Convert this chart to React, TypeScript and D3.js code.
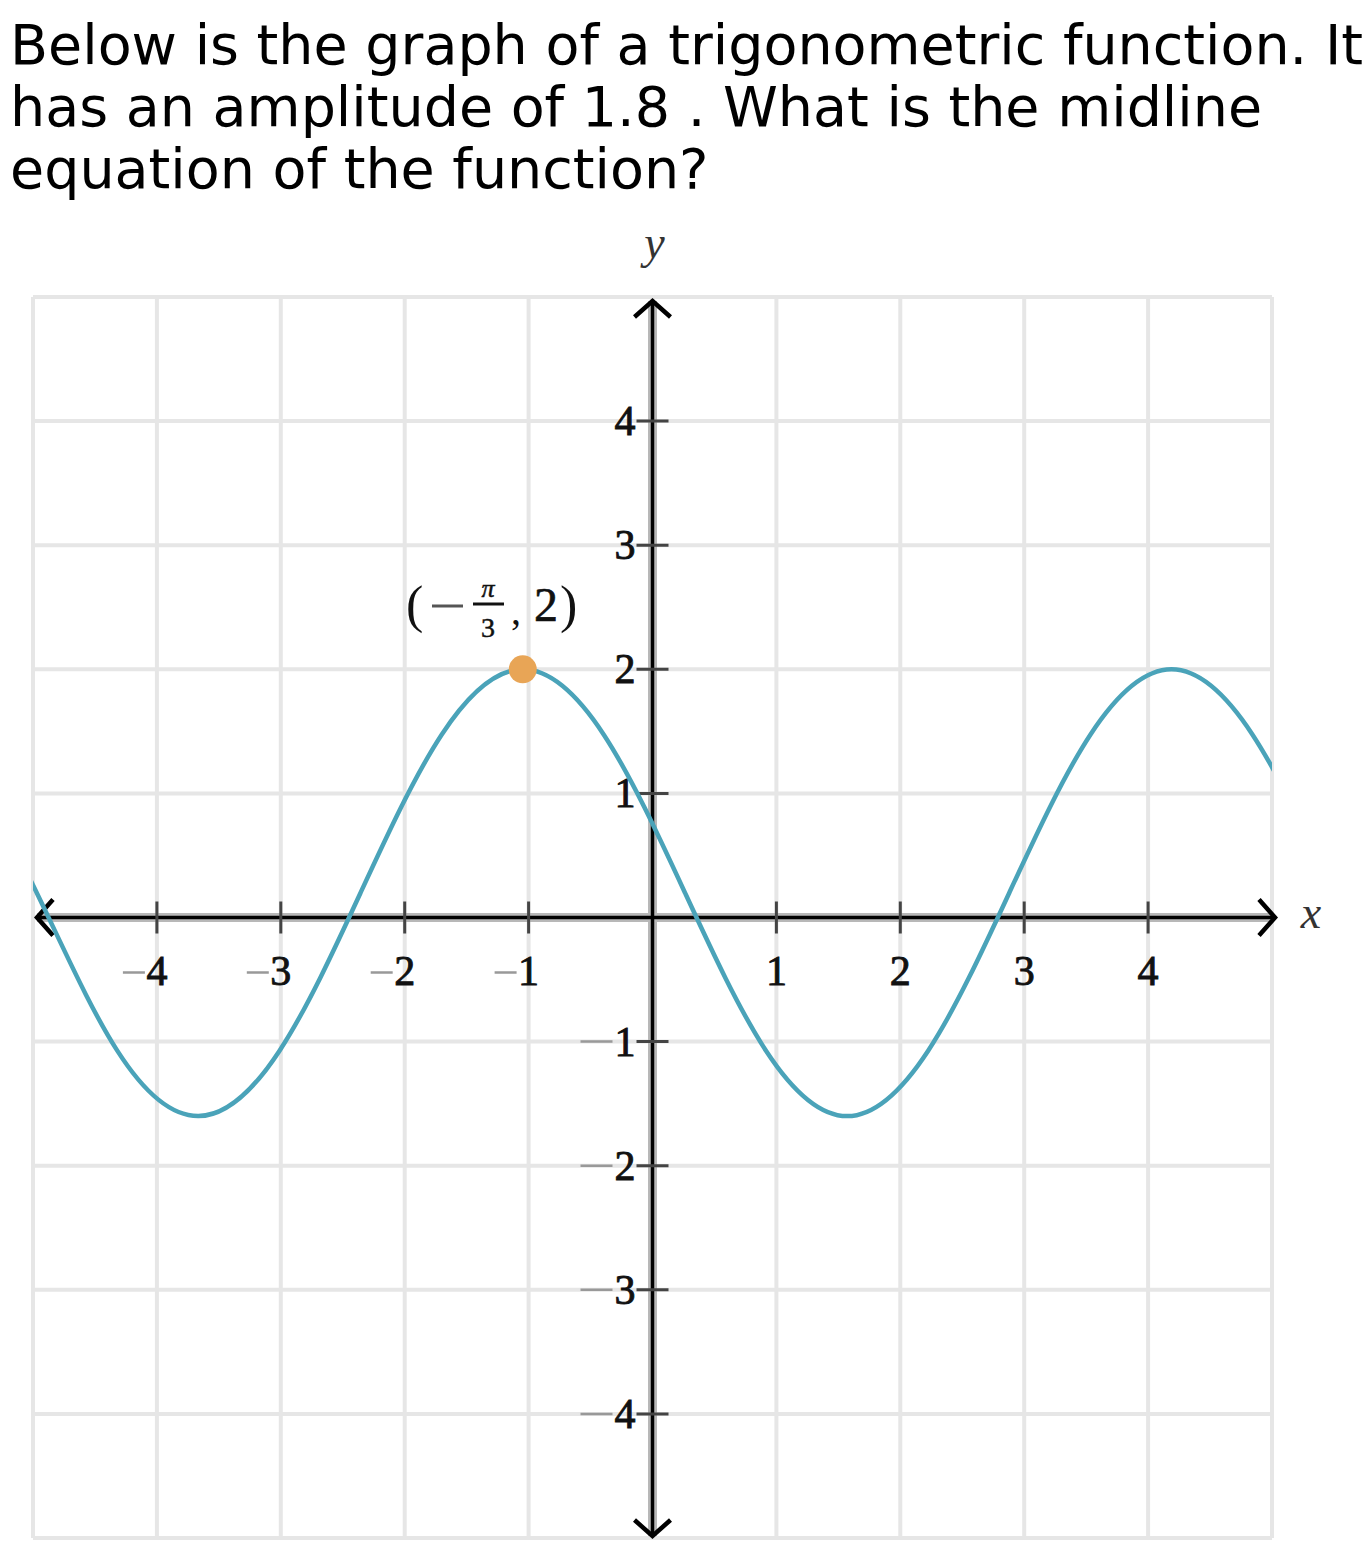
import React, { useEffect, useRef } from 'react';
import * as d3 from 'd3';

// question text, one entry per line
const questionLines = [
  'Below is the graph of a trigonometric function. It',
  'has an amplitude of 1.8 . What is the midline',
  'equation of the function?',
];

// ticks on both axes
const xTicks = [-4, -3, -2, -1, 1, 2, 3, 4];
const yTicks = [-4, -3, -2, -1, 1, 2, 3, 4];
const gridValues = [-5, -4, -3, -2, -1, 0, 1, 2, 3, 4, 5];

// points along the curve (peaks, troughs, midline crossings and in between)
const curveX = [-5.63, -4.97, -4.32, -3.665, -3.01, -2.356, -1.702, -1.047, -0.393, 0.262, 0.916, 1.571, 2.225, 2.88, 3.534, 4.189, 4.843, 5.498];
const curveY = [1.473, 0.2, -1.073, -1.6, -1.073, 0.2, 1.473, 2, 1.473, 0.2, -1.073, -1.6, -1.073, 0.2, 1.473, 2, 1.473, 0.2];

// marked point (-pi/3, 2)
const markX = -Math.PI / 3;
const markY = 2;

const W = 1371, H = 1552;

export default function App() {
  const ref = useRef<SVGSVGElement>(null);

  useEffect(() => {
    const svg = d3.select(ref.current);
    svg.selectAll('*').remove();

    const x = d3.scaleLinear().domain([-5, 5]).range([33, 1272]);
    const y = d3.scaleLinear().domain([-5, 5]).range([1538, 297]);

    // title
    svg.append('g').selectAll('text').data(questionLines).join('text')
      .attr('x', 10)
      .attr('y', (d, i) => 64 + i * 62)
      .attr('font-family', 'DejaVu Sans')
      .attr('font-size', 55.5)
      .attr('fill', '#000')
      .text(d => d);

    // grid
    const grid = svg.append('g').attr('stroke', '#e6e6e6').attr('stroke-width', 4);
    grid.selectAll('.gv').data(gridValues).join('line').attr('class', 'gv')
      .attr('x1', d => x(d)).attr('x2', d => x(d))
      .attr('y1', y(5)).attr('y2', y(-5));
    grid.selectAll('.gh').data(gridValues).join('line').attr('class', 'gh')
      .attr('y1', d => y(d)).attr('y2', d => y(d))
      .attr('x1', x(-5)).attr('x2', x(5));

    // axes, grey halo then black line
    const axes = svg.append('g');
    axes.append('line').attr('x1', x(-5) + 4).attr('x2', x(5) + 2).attr('y1', y(0)).attr('y2', y(0))
      .attr('stroke', '#b8b8b8').attr('stroke-width', 9);
    axes.append('line').attr('x1', x(0)).attr('x2', x(0)).attr('y1', y(5) + 4).attr('y2', y(-5) - 2)
      .attr('stroke', '#b8b8b8').attr('stroke-width', 9);
    axes.append('line').attr('x1', x(-5) + 4).attr('x2', x(5) + 2).attr('y1', y(0)).attr('y2', y(0))
      .attr('stroke', '#000').attr('stroke-width', 3.5);
    axes.append('line').attr('x1', x(0)).attr('x2', x(0)).attr('y1', y(5) + 4).attr('y2', y(-5) - 2)
      .attr('stroke', '#000').attr('stroke-width', 3.5);

    // ticks
    axes.selectAll('.xt').data(xTicks).join('line').attr('class', 'xt')
      .attr('x1', d => x(d)).attr('x2', d => x(d))
      .attr('y1', y(0) - 16).attr('y2', y(0) + 16)
      .attr('stroke', '#444').attr('stroke-width', 3);
    axes.selectAll('.yt').data(yTicks).join('line').attr('class', 'yt')
      .attr('y1', d => y(d)).attr('y2', d => y(d))
      .attr('x1', x(0) - 16).attr('x2', x(0) + 16)
      .attr('stroke', '#444').attr('stroke-width', 3);

    // arrow heads
    const arrow = 'M-18,16 L0,0 L18,16';
    const heads = [
      { tx: x(0), ty: y(5) + 4, rot: 0 },
      { tx: x(0), ty: y(-5) - 2, rot: 180 },
      { tx: x(5) + 3, ty: y(0), rot: 90 },
      { tx: x(-5) + 4, ty: y(0), rot: -90 },
    ];
    axes.selectAll('.ah').data(heads).join('path').attr('class', 'ah')
      .attr('d', arrow)
      .attr('transform', d => `translate(${d.tx},${d.ty}) rotate(${d.rot})`)
      .attr('fill', 'none').attr('stroke', '#000').attr('stroke-width', 4.5);

    // tick labels
    const labelFont = 'Liberation Serif';
    const xl = svg.append('g');
    xl.selectAll('text').data(xTicks).join('text')
      .attr('x', d => x(d))
      .attr('y', y(0) + 67)
      .attr('text-anchor', 'middle')
      .attr('font-family', labelFont).attr('font-size', 42)
      .attr('fill', '#111').attr('stroke', '#111').attr('stroke-width', 0.9)
      .text(d => Math.abs(d));
    xl.selectAll('line').data(xTicks.filter(d => d < 0)).join('line')
      .attr('x1', d => x(d) - 34).attr('x2', d => x(d) - 12)
      .attr('y1', y(0) + 55).attr('y2', y(0) + 55)
      .attr('stroke', '#999').attr('stroke-width', 2.5);

    const yl = svg.append('g');
    yl.selectAll('text').data(yTicks).join('text')
      .attr('x', x(0) - 17)
      .attr('y', d => y(d) + 14)
      .attr('text-anchor', 'end')
      .attr('font-family', labelFont).attr('font-size', 42)
      .attr('fill', '#111').attr('stroke', '#111').attr('stroke-width', 0.9)
      .text(d => Math.abs(d));
    yl.selectAll('line').data(yTicks.filter(d => d < 0)).join('line')
      .attr('x1', x(0) - 72).attr('x2', x(0) - 40)
      .attr('y1', d => y(d)).attr('y2', d => y(d))
      .attr('stroke', '#999').attr('stroke-width', 2.5);

    // axis names
    svg.append('text').attr('x', x(0) + 2).attr('y', 258).attr('text-anchor', 'middle')
      .attr('font-family', labelFont).attr('font-style', 'italic').attr('font-size', 46)
      .attr('fill', '#333').text('y');
    svg.append('text').attr('x', 1311).attr('y', y(0) + 10).attr('text-anchor', 'middle')
      .attr('font-family', labelFont).attr('font-style', 'italic').attr('font-size', 46)
      .attr('fill', '#333').text('x');

    // curve, clipped to the plot box
    svg.append('clipPath').attr('id', 'plotClip')
      .append('rect').attr('x', x(-5)).attr('y', y(5))
      .attr('width', x(5) - x(-5)).attr('height', y(-5) - y(5));
    const pts: [number, number][] = curveX.map((v, i) => [v, curveY[i]]);
    const line = d3.line<[number, number]>()
      .x(d => x(d[0])).y(d => y(d[1]))
      .curve(d3.curveNatural);
    svg.append('path').attr('d', line(pts))
      .attr('clip-path', 'url(#plotClip)')
      .attr('fill', 'none').attr('stroke', '#4aa3b9').attr('stroke-width', 4.5);

    // marked point
    svg.append('circle').attr('cx', x(markX)).attr('cy', y(markY)).attr('r', 14)
      .attr('fill', '#e8a556');

    // point label (-pi/3, 2)
    const lab = svg.append('g').attr('font-family', labelFont).attr('fill', '#111');
    lab.append('text').attr('x', 406).attr('y', 622).attr('font-size', 52).text('(');
    lab.append('line').attr('x1', 432).attr('x2', 463).attr('y1', 606).attr('y2', 606)
      .attr('stroke', '#555').attr('stroke-width', 3);
    lab.append('line').attr('x1', 473).attr('x2', 504).attr('y1', 604).attr('y2', 604)
      .attr('stroke', '#111').attr('stroke-width', 3);
    lab.append('text').attr('x', 488).attr('y', 597).attr('text-anchor', 'middle')
      .attr('font-size', 26).attr('font-style', 'italic').attr('stroke', '#111').attr('stroke-width', 0.5).text('π');
    lab.append('text').attr('x', 488).attr('y', 637).attr('text-anchor', 'middle')
      .attr('font-size', 28).attr('stroke', '#111').attr('stroke-width', 0.5).text('3');
    lab.append('text').attr('x', 511).attr('y', 624).attr('font-size', 40).text(',');
    lab.append('text').attr('x', 534).attr('y', 621).attr('font-size', 48)
      .attr('stroke', '#111').attr('stroke-width', 0.6).text('2');
    lab.append('text').attr('x', 560).attr('y', 622).attr('font-size', 52).text(')');
  }, []);

  return (
    <svg ref={ref} width={W} height={H}
      style={{ position: 'absolute', left: 0, top: 0, background: '#fff' }} />
  );
}
